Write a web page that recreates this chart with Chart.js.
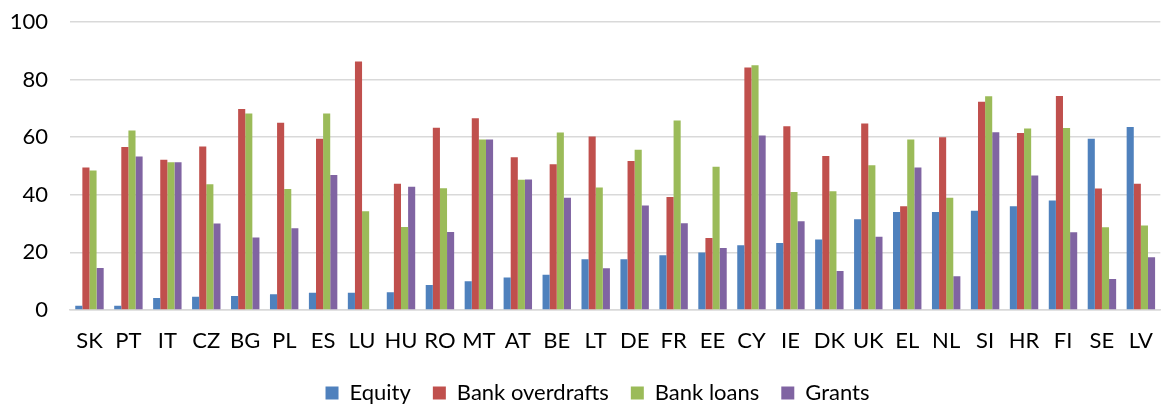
<!DOCTYPE html>
<html><head><meta charset="utf-8">
<script src="https://cdn.jsdelivr.net/npm/chart.js@4"></script>
<style>html,body{margin:0;padding:0;background:#fff;overflow:hidden;}#wrap{width:1163px;height:414px;}</style>
</head><body><div id="wrap"><canvas id="c"></canvas></div>
<script>
const categories = ["SK","PT","IT","CZ","BG","PL","ES","LU","HU","RO","MT","AT","BE","LT","DE","FR","EE","CY","IE","DK","UK","EL","NL","SI","HR","FI","SE","LV"];
const equity     = [1.5,1.5,4.2,4.6,4.9,5.5,6,6,6.2,8.7,10,11.3,12.2,17.6,17.6,19,20,22.5,23.3,24.5,31.5,34,34,34.5,36,38,59.5,63.5];
const overdrafts = [49.5,56.6,52.2,56.8,69.8,65,59.5,86.3,43.8,63.3,66.6,53,50.6,60.2,51.7,39.2,25,84.2,63.8,53.5,64.8,36,60,72.3,61.5,74.3,42.2,43.8];
const loans      = [48.4,62.3,51.3,43.7,68.2,42,68.2,34.3,28.8,42.3,59.2,45.2,61.6,42.5,55.6,65.8,49.7,85,41,41.2,50.3,59.2,39,74.2,63,63.2,28.7,29.3];
const grants     = [14.6,53.3,51.3,30,25.2,28.4,46.9,0,42.8,27.1,59.2,45.3,39,14.5,36.3,30.1,21.5,60.6,30.8,13.5,25.4,49.5,11.7,61.7,46.7,27,10.8,18.3];
const yTicks = [0,20,40,60,80,100];

const FONT = "Lato, sans-serif";
const legendShift = {
  id:'legendShift',
  afterLayout(chart){ if(chart.legend){ chart.legend.left += 16; chart.legend.right += 16; } }
};
new Chart(document.getElementById('c'), {
  type: 'bar',
  data: {
    labels: categories,
    datasets: [
      {label:'Equity', data:equity, backgroundColor:'#4F81BD'},
      {label:'Bank overdrafts', data:overdrafts, backgroundColor:'#C0504D'},
      {label:'Bank loans', data:loans, backgroundColor:'#9BBB59'},
      {label:'Grants', data:grants, backgroundColor:'#8064A2'}
    ]
  },
  plugins:[legendShift],
  options: {
    responsive:true, maintainAspectRatio:false, animation:false,
    layout:{padding:{top:22,right:0,left:0,bottom:0}},
    datasets:{bar:{categoryPercentage:0.73, barPercentage:1.0}},
    plugins:{
      tooltip:{enabled:false},
      legend:{position:'bottom', labels:{boxWidth:13, boxHeight:13, padding:22, color:'#000', font:{family:FONT, size:22}}}
    },
    scales:{
      x:{
        afterFit:(s)=>{s.height=50;},
        grid:{display:false}, border:{display:true, color:'#d9d9d9', width:1.5},
        ticks:{color:'#000', padding:10, maxRotation:0, autoSkip:false, font:{family:FONT, size:22}}
      },
      y:{
        min:0, max:100,
        afterFit:(s)=>{s.width=70; s.paddingTop=0; s.paddingBottom=0;},
        afterBuildTicks:(s)=>{s.ticks = yTicks.map(v=>({value:v}));},
        grid:{color:'#d9d9d9', lineWidth:1.5, drawTicks:false},
        border:{display:false},
        ticks:{color:'#000', padding:22, font:{family:FONT, size:22}}
      }
    }
  }
});
</script></body></html>
